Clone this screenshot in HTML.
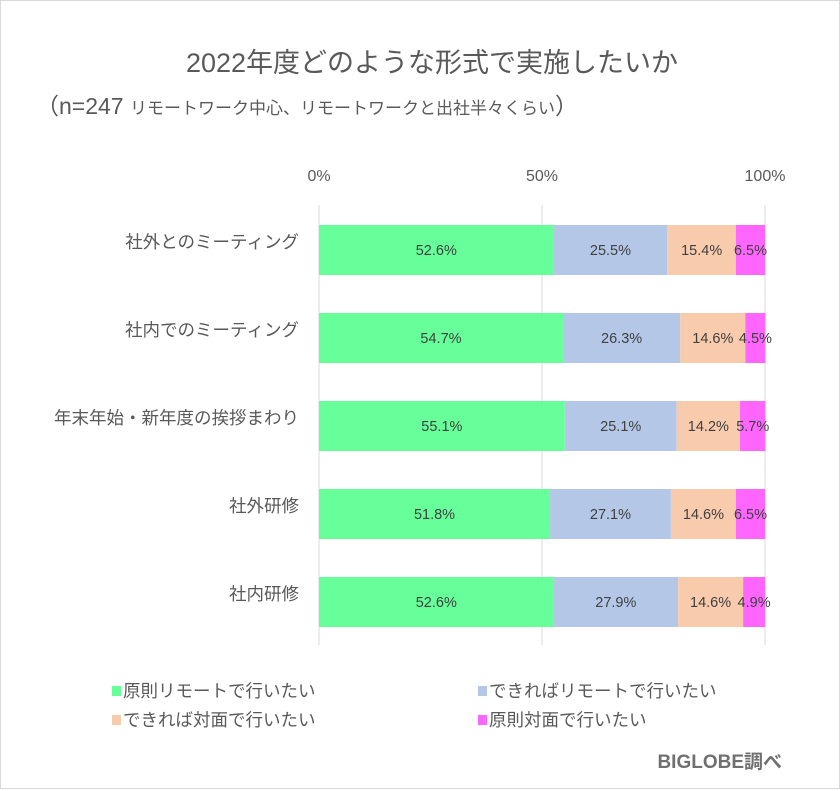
<!DOCTYPE html>
<html><head><meta charset="utf-8">
<style>
html,body{margin:0;padding:0;background:#fff;}
body{width:840px;height:791px;overflow:hidden;position:relative;font-family:"Liberation Sans","Noto Sans CJK JP",sans-serif;}
.frame{position:absolute;left:0;top:0;width:838px;height:787px;border:1px solid #d9d9d9;}
</style></head><body>
<div class="frame"></div>
<svg id="c" width="840" height="791" style="position:absolute;left:0;top:0"></svg>
<script>
const categories=["社外とのミーティング","社内でのミーティング","年末年始・新年度の挨拶まわり","社外研修","社内研修"];
const s1=[52.6,54.7,55.1,51.8,52.6];
const s2=[25.5,26.3,25.1,27.1,27.9];
const s3=[15.4,14.6,14.2,14.6,14.6];
const s4=[6.5,4.5,5.7,6.5,4.9];
const seriesNames=["原則リモートで行いたい","できればリモートで行いたい","できれば対面で行いたい","原則対面で行いたい"];
const ticks=[0,50,100];
const colors=["#66FF99","#B4C7E7","#F8CBAD","#FF66FF"];
const svg=document.getElementById('c');
const NS="http://www.w3.org/2000/svg";
const x0=319,x1=765;
const xs=v=>x0+(x1-x0)*v/100;
const ys=i=>225+i*88;
const bh=50;
function mk(t,a,txt){const e=document.createElementNS(NS,t);for(const k in a)e.setAttribute(k,a[k]);if(txt!=null)e.textContent=txt;svg.appendChild(e);return e;}
const font='"Liberation Sans","Noto Sans CJK JP",sans-serif';
let e;
e=mk('text',{x:432,y:72,'text-anchor':'middle','font-size':27,fill:'#595959','font-family':font},"2022年度どのような形式で実施したいか");


e=mk('text',{x:36,y:114,'font-size':23,fill:'#595959','font-family':font});
e.innerHTML='（n=247 <tspan font-size="17">リモートワーク中心、リモートワークと出社半々くらい</tspan>）';


ticks.forEach(t=>{
  e=mk('line',{x1:xs(t),x2:xs(t),y1:205,y2:645,stroke:'#d9d9d9','stroke-width':1});
  
  
  e=mk('text',{x:xs(t),y:181,'text-anchor':'middle','font-size':16,fill:'#595959','font-family':font},t+'%');
  
  
});
const all=[s1,s2,s3,s4];
categories.forEach((c,i)=>{
  e=mk('text',{x:299,y:ys(i)+bh/2-2,'text-anchor':'end','font-size':17.5,fill:'#595959','font-family':font},c);
  
  
  let acc=0;
  all.forEach((s,k)=>{
    const v=s[i];
    e=mk('rect',{x:xs(acc),y:ys(i),width:xs(acc+v)-xs(acc),height:bh,fill:colors[k]});
    
    
    e=mk('text',{x:(xs(acc)+xs(acc+v))/2,y:ys(i)+bh/2+5,'text-anchor':'middle','font-size':14.5,fill:'#404040','font-family':font},v.toFixed(1)+'%');
    
    
    acc+=v;
  });
});
const lp=[[112,690],[478,690],[112,719],[478,719]];
seriesNames.forEach((n,k)=>{
  e=mk('rect',{x:lp[k][0],y:lp[k][1]-4,width:9,height:10,fill:colors[k]});
  
  
  e=mk('text',{x:lp[k][0]+11,y:lp[k][1]+7,'font-size':17.5,fill:'#595959','font-family':font},n);
  
  
});
e=mk('text',{x:782,y:768,'text-anchor':'end','font-size':19,'font-weight':'bold',fill:'#707070','font-family':font},"BIGLOBE調べ");


</script>
</body></html>
